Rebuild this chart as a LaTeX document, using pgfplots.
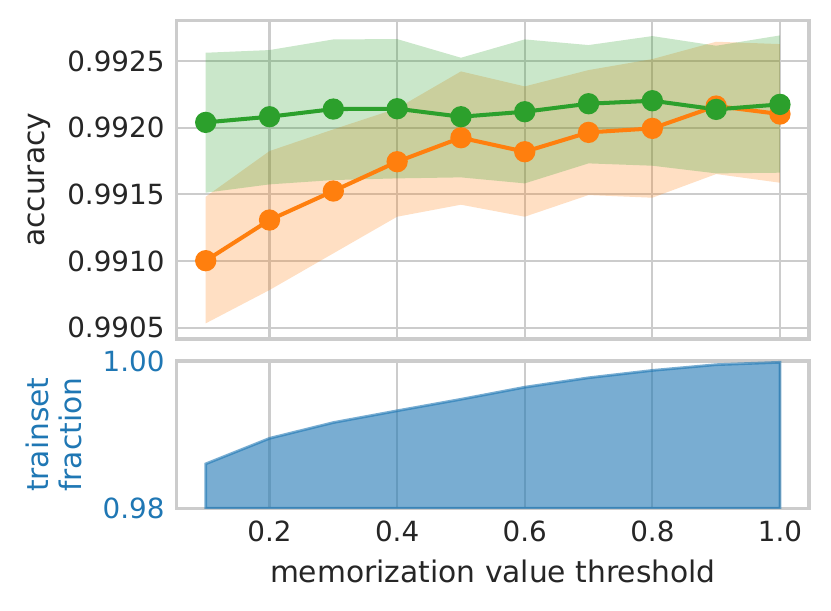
\documentclass[border=0pt]{standalone}
\usepackage{fontspec}
\setmainfont{DejaVu Sans}
\usepackage{pgfplots}
\usepackage{pgfplotstable}
\pgfplotsset{compat=1.18}
\definecolor{tabblue}{HTML}{1F77B4}
\definecolor{taborange}{HTML}{FF7F0E}
\definecolor{tabgreen}{HTML}{2CA02C}
\definecolor{gridgray}{HTML}{CCCCCC}
\definecolor{txt}{HTML}{262626}

\pgfplotstableread{
x mean
0.1 0.9920400
0.2 0.9920825
0.3 0.9921400
0.4 0.9921425
0.5 0.9920825
0.6 0.9921200
0.7 0.9921800
0.8 0.9922025
0.9 0.9921375
1.0 0.9921750
}\greendata

\pgfplotstableread{
x mean
0.1 0.9910025
0.2 0.9913075
0.3 0.9915250
0.4 0.9917450
0.5 0.9919250
0.6 0.9918200
0.7 0.9919650
0.8 0.9919950
0.9 0.9921625
1.0 0.9921025
}\orangedata

\pgfplotstableread{
x frac
0.1 0.98603
0.2 0.98950
0.3 0.99164
0.4 0.99324
0.5 0.99480
0.6 0.99644
0.7 0.99772
0.8 0.99872
0.9 0.99950
1.0 0.99982
}\fracdata

\pgfplotsset{
  common/.style={
    scale only axis,
    width=227.63pt,
    xmin=0.0545, xmax=1.0455,
    xtick={0.2,0.4,0.6,0.8,1.0},
    grid=major,
    major grid style={gridgray, line width=0.8pt},
    axis line style={gridgray, line width=1.1pt},
    major tick length=0pt,
    tick style={draw=none},
    /pgf/number format/assume math mode=true,
    yticklabel style={anchor=east, inner sep=0pt, xshift=-4.2pt, font=\fontsize{10}{12}\selectfont},
    xticklabel style={anchor=base, inner sep=0pt, yshift=-12pt, font=\fontsize{10}{12}\selectfont, text=txt},
    label style={font=\fontsize{10.7}{12}\selectfont},
  },
}

\begin{document}
\begin{tikzpicture}
\useasboundingbox (0,0) rectangle (299.16pt,219.6pt);

% top axis
\begin{axis}[common,
  at={(63.61pt,97.56pt)}, anchor=south west,
  height=114.59pt,
  ymin=0.990415, ymax=0.992803,
  ytick={0.9905,0.9910,0.9915,0.9920,0.9925},
  xticklabels={},
  yticklabel style={text=txt, /pgf/number format/.cd, fixed, fixed zerofill, precision=4},
  ylabel={accuracy},
  ylabel style={at={(axis description cs:-0.2094,0.5)}, anchor=base, text=txt},
]
% orange band (upper forward, lower backward)
\addplot[fill=taborange, fill opacity=0.25, draw=none, forget plot] coordinates {
(0.1,0.9914825) (0.2,0.9918250) (0.3,0.9919875) (0.4,0.9921450) (0.5,0.9924225)
(0.6,0.9923100) (0.7,0.9924325) (0.8,0.9925150) (0.9,0.9926450) (1.0,0.9926275)
(1.0,0.9915875) (0.9,0.9916525) (0.8,0.9914750) (0.7,0.9914950) (0.6,0.9913325)
(0.5,0.9914225) (0.4,0.9913325) (0.3,0.9910575) (0.2,0.9907825) (0.1,0.9905325)
} -- cycle;
% green band
\addplot[fill=tabgreen, fill opacity=0.25, draw=none, forget plot] coordinates {
(0.1,0.9925625) (0.2,0.9925825) (0.3,0.9926625) (0.4,0.9926650) (0.5,0.9925250)
(0.6,0.9926625) (0.7,0.9926200) (0.8,0.9926875) (0.9,0.9926150) (1.0,0.9926925)
(1.0,0.9916625) (0.9,0.9916575) (0.8,0.9917150) (0.7,0.9917325) (0.6,0.9915825)
(0.5,0.9916275) (0.4,0.9916200) (0.3,0.9916075) (0.2,0.9915750) (0.1,0.9915125)
} -- cycle;
\addplot[taborange, line width=1.45pt, mark=*, mark size=3.1pt, mark options={solid, fill=taborange, draw=taborange}] table[x=x, y=mean]{\orangedata};
\addplot[tabgreen, line width=1.45pt, mark=*, mark size=3.1pt, mark options={solid, fill=tabgreen, draw=tabgreen}] table[x=x, y=mean]{\greendata};
\end{axis}

% bottom axis
\begin{axis}[common,
  at={(63.61pt,36.61pt)}, anchor=south west,
  height=53.03pt,
  ymin=0.98, ymax=1.0,
  ytick={0.98,1.00},
  yticklabel style={text=tabblue, /pgf/number format/.cd, fixed, fixed zerofill, precision=2},
  xticklabel style={/pgf/number format/.cd, fixed, fixed zerofill, precision=1},
  xlabel={memorization value threshold},
  xlabel style={at={(axis description cs:0.5,-0.507)}, anchor=base, text=txt},
  ylabel={trainset\\fraction},
  ylabel style={align=center, at={(axis description cs:-0.1487,0.5)}, anchor=south, inner sep=0pt, text=tabblue},
]
\addplot[fill=tabblue, fill opacity=0.6, draw=tabblue, draw opacity=0.6, line width=1pt] table[x=x, y=frac]{\fracdata} \closedcycle;
\end{axis}
\end{tikzpicture}
\end{document}
